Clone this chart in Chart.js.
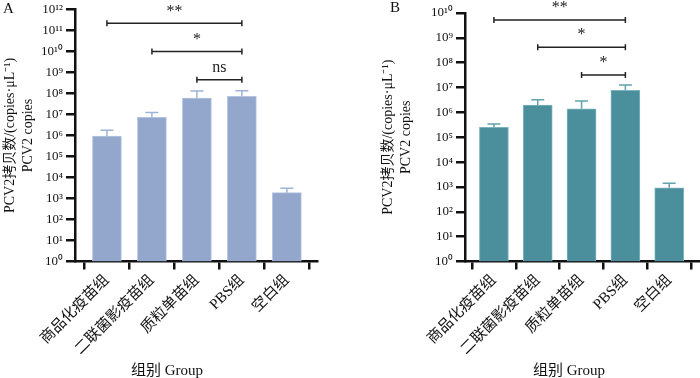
<!DOCTYPE html>
<html>
<head>
<meta charset="utf-8">
<script src="https://cdn.jsdelivr.net/npm/chart.js@4"></script>
<style>
  body { margin: 0; background: #fff; }
  canvas { position: absolute; top: 0; }
</style>
</head>
<body>
<canvas id="chartA" width="350" height="378" style="left:0"></canvas>
<canvas id="chartB" width="350" height="378" style="left:350px"></canvas>
<script>
// groups on the x axis
const groups = ["商品化疫苗组", "二联菌影疫苗组", "质粒单苗组", "PBS组", "空白组"];

// panel A: mean and top of error bar (copies/uL)
const meanA = [9.4e5, 7.4e6, 6.1e7, 7.4e7, 1.9e3];
const upperA = [1.8e6, 1.26e7, 1.3e8, 1.37e8, 3.1e3];
// panel B
const meanB = [2.5e5, 1.96e6, 1.4e6, 7.7e6, 9.3e2];
const upperB = [3.4e5, 3.2e6, 2.9e6, 1.26e7, 1.42e3];

const yTicksA = [1e0, 1e1, 1e2, 1e3, 1e4, 1e5, 1e6, 1e7, 1e8, 1e9, 1e10, 1e11, 1e12];
const yTicksB = [1e0, 1e1, 1e2, 1e3, 1e4, 1e5, 1e6, 1e7, 1e8, 1e9, 1e10];

// significance brackets: [from group, to group, level, label]
const bracketsA = [[0, 3, 2.2e11, "**"], [1, 3, 1e10, "*"], [2, 3, 4.5e8, "ns"]];
const bracketsB = [[0, 3, 5.2e9, "**"], [1, 3, 4.2e8, "*"], [2, 3, 3.2e7, "*"]];

const yTitle = ["PCV2拷贝数/(copies·μL⁻¹)", "PCV2 copies"];
const xTitle = "组别 Group";

const serif = "'Liberation Serif', 'Times New Roman', 'Noto Sans CJK SC', serif";
const sup = "⁰¹²³⁴⁵⁶⁷⁸⁹";
function power(v) {
  const e = Math.round(Math.log10(v));
  return "10" + String(e).split("").map((d) => sup[d]).join("");
}

const marks = {
  id: "marks",
  afterDatasetsDraw(chart, args, opts) {
    const ctx = chart.ctx;
    const x = chart.scales.x;
    const y = chart.scales.y;
    ctx.save();
    // error bars (upper only)
    ctx.strokeStyle = opts.errColor;
    ctx.lineWidth = 1.5;
    opts.upper.forEach((u, i) => {
      const px = x.getPixelForValue(i);
      const top = y.getPixelForValue(u);
      const base = y.getPixelForValue(opts.mean[i]);
      ctx.beginPath();
      ctx.moveTo(px, base);
      ctx.lineTo(px, top);
      ctx.moveTo(px - 6.5, top);
      ctx.lineTo(px + 6.5, top);
      ctx.stroke();
    });
    // brackets
    ctx.strokeStyle = "#222";
    ctx.fillStyle = "#222";
    ctx.lineWidth = 1.5;
    ctx.font = "16px " + serif;
    ctx.textAlign = "center";
    ctx.textBaseline = "middle";
    opts.brackets.forEach(([from, to, level, label]) => {
      const x1 = x.getPixelForValue(from);
      const x2 = x.getPixelForValue(to);
      const py = y.getPixelForValue(level);
      ctx.beginPath();
      ctx.moveTo(x1, py - 3);
      ctx.lineTo(x1, py + 3);
      ctx.moveTo(x1, py);
      ctx.lineTo(x2, py);
      ctx.moveTo(x2, py - 3);
      ctx.lineTo(x2, py + 3);
      ctx.stroke();
      ctx.fillText(label, (x1 + x2) / 2, py - 12);
    });
    ctx.restore();
  },
  afterDraw(chart, args, opts) {
    const ctx = chart.ctx;
    ctx.save();
    ctx.fillStyle = "#111";
    ctx.font = "15px " + serif;
    ctx.textBaseline = "middle";
    ctx.textAlign = "left";
    ctx.fillText(opts.letter, opts.letterX, opts.letterY);
    ctx.textAlign = "center";
    ctx.fillText(xTitle, opts.titleX, 371);
    ctx.restore();
  },
};

function makeConfig(mean, upper, yTicks, brackets, p) {
  return {
    type: "bar",
    data: {
      datasets: [
        {
          data: mean.map((v, i) => ({ x: i, y: v })),
          backgroundColor: p.fill,
          borderColor: p.border,
          borderWidth: 1,
          barThickness: 29,
        },
      ],
    },
    options: {
      responsive: false,
      animation: false,
      layout: { padding: p.padding },
      scales: {
        x: {
          type: "linear",
          min: p.xMin,
          max: p.xMax,
          offset: false,
          afterBuildTicks: (s) => {
            s.ticks = groups.map((g, i) => ({ value: i }));
          },
          afterFit: (s) => {
            s.height = 116.5;
          },
          ticks: {
            autoSkip: false,
            minRotation: 45,
            maxRotation: 45,
            padding: 2,
            color: "#111",
            font: { family: serif, size: 15 },
            callback: (v) => groups[v],
          },
          grid: { drawOnChartArea: false, tickLength: 8, color: "#111", lineWidth: 2.5 },
          border: { color: "#111", width: 2.5 },
        },
        y: {
          type: "logarithmic",
          min: yTicks[0],
          max: yTicks[yTicks.length - 1],
          afterBuildTicks: (s) => {
            s.ticks = yTicks.map((v) => ({ value: v }));
          },
          afterFit: (s) => {
            s.width = p.yWidth;
          },
          ticks: {
            autoSkip: false,
            padding: 3,
            color: "#111",
            font: { family: serif, size: 13, lineHeight: 1 },
            callback: (v) => power(v),
          },
          grid: { drawOnChartArea: false, tickLength: 9, color: "#111", lineWidth: 2.5 },
          border: { color: "#111", width: 2.5 },
          title: {
            display: true,
            text: yTitle,
            color: "#111",
            font: { family: serif, size: 14, lineHeight: 1.32 },
            padding: { top: 1, bottom: 0 },
          },
        },
      },
      plugins: {
        legend: { display: false },
        tooltip: { enabled: false },
        marks: {
          mean: mean,
          upper: upper,
          brackets: brackets,
          errColor: p.err,
          letter: p.letter,
          letterX: p.letterX,
          letterY: p.letterY,
          titleX: p.titleX,
        },
      },
    },
    plugins: [marks],
  };
}

const chartA = new Chart(
  document.getElementById("chartA"),
  makeConfig(meanA, upperA, yTicksA, bracketsA, {
    fill: "#93a6cc",
    border: "#b4c3e0",
    err: "#9fb2d8",
    padding: { left: 0, right: 33, top: 6, bottom: 0 },
    yWidth: 75,
    xMin: -0.71,
    xMax: 4.67,
    letter: "A",
    letterX: 3,
    letterY: 9,
    titleX: 167,
  })
);

const chartB = new Chart(
  document.getElementById("chartB"),
  makeConfig(meanB, upperB, yTicksB, bracketsB, {
    fill: "#4a8f9b",
    border: "#7db3bd",
    err: "#62a2ad",
    padding: { left: 28, right: 1, top: 13, bottom: 0 },
    yWidth: 87,
    xMin: -0.66,
    xMax: 4.68,
    letter: "B",
    letterX: 40,
    letterY: 8,
    titleX: 219,
  })
);
</script>
</body>
</html>
